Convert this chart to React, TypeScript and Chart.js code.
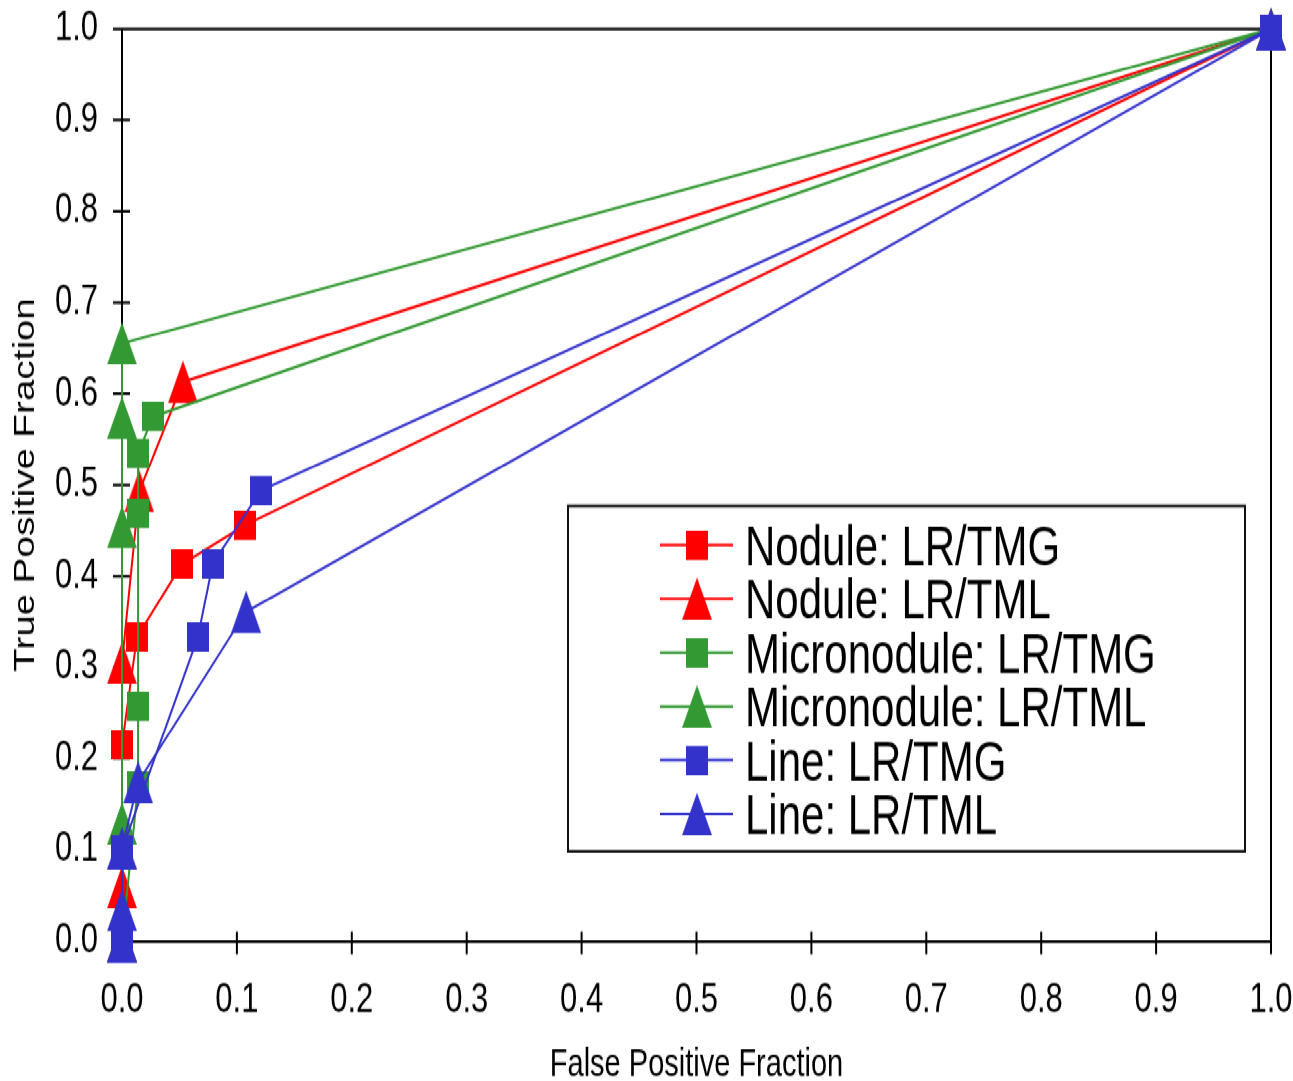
import React, { useEffect, useRef } from 'react';
import { Chart, registerables } from 'chart.js';

Chart.register(...registerables);

// ---------- data ----------
const seriesLabels = [
  'Nodule: LR/TMG',
  'Nodule: LR/TML',
  'Micronodule: LR/TMG',
  'Micronodule: LR/TML',
  'Line: LR/TMG',
  'Line: LR/TML',
];
const seriesColors = ['#ff0000', '#ff0000', '#339933', '#339933', '#3333cc', '#3333cc'];
const seriesShapes = ['square', 'triangle', 'square', 'triangle', 'square', 'triangle'];

const noduleTmgFPF = [0, 0, 0.013, 0.052, 0.107, 1];
const noduleTmgTPF = [0, 0.215, 0.333, 0.413, 0.456, 1];
const noduleTmlFPF = [0, 0, 0, 0.015, 0.053, 1];
const noduleTmlTPF = [0, 0.059, 0.305, 0.493, 0.613, 1];
const microTmgFPF = [0, 0.014, 0.014, 0.014, 0.014, 0.027, 1];
const microTmgTPF = [0, 0.17, 0.257, 0.469, 0.535, 0.575, 1];
const microTmlFPF = [0, 0, 0, 0, 0, 1];
const microTmlTPF = [0, 0.129, 0.454, 0.574, 0.655, 1];
const lineTmgFPF = [0, 0, 0.066, 0.079, 0.121, 1];
const lineTmgTPF = [0, 0.1, 0.333, 0.414, 0.494, 1];
const lineTmlFPF = [0, 0, 0, 0.014, 0.108, 1];
const lineTmlTPF = [0, 0.034, 0.102, 0.174, 0.361, 1];

const seriesFPF = [noduleTmgFPF, noduleTmlFPF, microTmgFPF, microTmlFPF, lineTmgFPF, lineTmlFPF];
const seriesTPF = [noduleTmgTPF, noduleTmlTPF, microTmgTPF, microTmlTPF, lineTmgTPF, lineTmlTPF];

const xTickLabels = ['0.0', '0.1', '0.2', '0.3', '0.4', '0.5', '0.6', '0.7', '0.8', '0.9', '1.0'];
const yTickLabels = ['0.0', '0.1', '0.2', '0.3', '0.4', '0.5', '0.6', '0.7', '0.8', '0.9', '1.0'];
const xTitle = 'False Positive Fraction';
const yTitle = 'True Positive Fraction';

// ---------- layout constants ----------
const STRETCH = 1.33;
const W = 1293;
const H = 813;
const AREA_LEFT = 122;
const AREA_RIGHT = 1271;
const AREA_TOP = 21.8;
const AREA_BOTTOM = 707.5;

const tickFont = "'Liberation Sans Narrow', 'Liberation Sans', Arial, sans-serif";
const textFont = "'Liberation Sans', Arial, sans-serif";

function makeMarker(shape: string, color: string): HTMLCanvasElement {
  const c = document.createElement('canvas');
  if (shape === 'square') {
    c.width = 22;
    c.height = 22;
    const g = c.getContext('2d')!;
    g.fillStyle = color;
    g.fillRect(0, 0, 22, 22);
  } else {
    c.width = 30;
    c.height = 32;
    const g = c.getContext('2d')!;
    g.fillStyle = color;
    g.beginPath();
    g.moveTo(15, 0);
    g.lineTo(30, 32);
    g.lineTo(0, 32);
    g.closePath();
    g.fill();
  }
  return c;
}

// frame (top/right borders) and crossing tick marks positioned by the scales
const framePlugin = {
  id: 'frameTicks',
  beforeDatasetsDraw(chart: any) {
    const { ctx, chartArea: a, scales } = chart;
    ctx.save();
    ctx.strokeStyle = '#000';
    ctx.lineWidth = 2;
    ctx.beginPath();
    ctx.moveTo(a.left, a.top);
    ctx.lineTo(a.right, a.top);
    ctx.lineTo(a.right, a.bottom);
    scales.x.ticks.forEach((t: any) => {
      const px = scales.x.getPixelForValue(t.value);
      ctx.moveTo(px, a.bottom + 10);
      ctx.lineTo(px, a.bottom - 7);
    });
    scales.y.ticks.forEach((t: any) => {
      const py = scales.y.getPixelForValue(t.value);
      ctx.moveTo(a.left - 9, py);
      ctx.lineTo(a.left + 8, py);
    });
    ctx.stroke();
    ctx.restore();
  },
};

const legendPlugin = {
  id: 'boxLegend',
  afterDraw(chart: any) {
    const { ctx } = chart;
    const left = 568;
    const top = 380.5;
    const right = 1245;
    const bottom = 640;
    ctx.save();
    ctx.fillStyle = '#fff';
    ctx.fillRect(left, top, right - left, bottom - top);
    ctx.strokeStyle = '#111';
    ctx.lineWidth = 2;
    ctx.strokeRect(left, top, right - left, bottom - top);
    const firstRow = 409.8;
    const rowGap = 40.45;
    chart.data.datasets.forEach((ds: any, i: number) => {
      const cy = firstRow + i * rowGap;
      ctx.strokeStyle = ds.borderColor;
      ctx.lineWidth = 2;
      ctx.beginPath();
      ctx.moveTo(660, cy);
      ctx.lineTo(733, cy);
      ctx.stroke();
      const img = ds.pointStyle as HTMLCanvasElement;
      ctx.drawImage(img, 697 - img.width / 2, cy - img.height / 2);
      ctx.fillStyle = '#000';
      ctx.font = `42px ${textFont}`;
      ctx.textAlign = 'left';
      ctx.textBaseline = 'alphabetic';
      ctx.fillText(ds.label, 745, cy + 15);
    });
    ctx.restore();
  },
};

export default function App() {
  const canvasRef = useRef<HTMLCanvasElement | null>(null);

  useEffect(() => {
    if (!canvasRef.current) return;
    const datasets = seriesLabels.map((label, i) => ({
      label,
      data: seriesFPF[i].map((x, j) => ({ x, y: seriesTPF[i][j] })),
      borderColor: seriesColors[i],
      backgroundColor: seriesColors[i],
      borderWidth: 2,
      pointStyle: makeMarker(seriesShapes[i], seriesColors[i]),
      pointRadius: 10,
      pointBorderWidth: 0,
      tension: 0,
      clip: false as any,
      order: seriesLabels.length - 1 - i,
    }));

    const chart = new Chart(canvasRef.current, {
      type: 'line',
      data: { datasets },
      options: {
        animation: false,
        responsive: true,
        maintainAspectRatio: false,
        events: [],
        layout: {
          padding: { left: 0, top: AREA_TOP, right: W - AREA_RIGHT, bottom: 0 },
        },
        plugins: {
          legend: { display: false },
          tooltip: { enabled: false },
        },
        scales: {
          x: {
            type: 'linear',
            min: 0,
            max: 1,
            afterFit: (scale: any) => {
              scale.height = H - AREA_BOTTOM;
            },
            ticks: {
              stepSize: 0.1,
              autoSkip: false,
              maxRotation: 0,
              padding: 0,
              color: '#000',
              font: { family: tickFont, size: 31 },
              callback: (_v: any, i: number) => xTickLabels[i],
            },
            grid: {
              display: true,
              drawOnChartArea: false,
              drawTicks: true,
              tickLength: 26,
              tickColor: 'rgba(0,0,0,0)',
              color: '#000',
              lineWidth: 2,
            },
            border: { display: true, color: '#000', width: 2 },
            title: {
              display: true,
              text: xTitle,
              color: '#000',
              font: { family: textFont, size: 29, lineHeight: 0.8 },
              padding: { top: 0, bottom: 0 },
            },
          },
          y: {
            type: 'linear',
            min: 0,
            max: 1,
            afterFit: (scale: any) => {
              scale.width = AREA_LEFT;
            },
            ticks: {
              stepSize: 0.1,
              autoSkip: false,
              padding: 0,
              color: '#000',
              font: { family: tickFont, size: 31 },
              callback: (_v: any, i: number) => yTickLabels[i],
            },
            grid: {
              display: true,
              drawOnChartArea: false,
              drawTicks: true,
              tickLength: 24,
              tickColor: 'rgba(0,0,0,0)',
              color: '#000',
              lineWidth: 2,
            },
            border: { display: true, color: '#000', width: 2 },
            title: {
              display: true,
              text: yTitle,
              color: '#000',
              font: { family: textFont, size: 29, lineHeight: 0.8 },
              padding: { top: 14.4, bottom: 0 },
            },
          },
        },
      },
      plugins: [framePlugin, legendPlugin],
    });
    return () => chart.destroy();
  }, []);

  return (
    <div
      style={{
        position: 'fixed',
        left: 0,
        top: 0,
        width: W,
        height: H,
        transform: `scaleY(${STRETCH})`,
        transformOrigin: '0 0',
        background: '#fff',
      }}
    >
      <canvas ref={canvasRef} />
    </div>
  );
}
